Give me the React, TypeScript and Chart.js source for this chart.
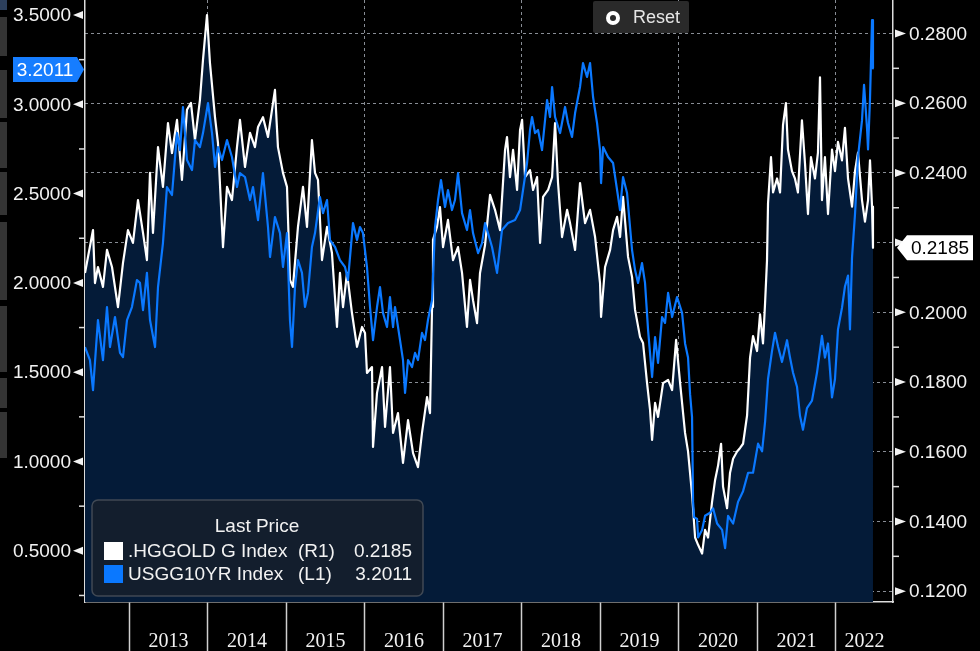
import { useEffect, useRef } from "react";
import { Chart, registerables } from "chart.js";

Chart.register(...registerables);

// ---------- data (decimal years / index values) ----------
const goldDates = [
  2012.436, 2012.538, 2012.563, 2012.601, 2012.665, 2012.716, 2012.780, 2012.856, 2012.920, 2012.983,
  2013.047, 2013.111, 2013.175, 2013.225, 2013.264, 2013.302, 2013.366, 2013.429, 2013.493, 2013.544,
  2013.608, 2013.671, 2013.735, 2013.786, 2013.837, 2013.900, 2013.939, 2013.990, 2014.028, 2014.092,
  2014.130, 2014.194, 2014.245, 2014.308, 2014.372, 2014.410, 2014.474, 2014.538, 2014.601, 2014.640,
  2014.703, 2014.767, 2014.818, 2014.856, 2014.894, 2014.958, 2015.009, 2015.047, 2015.085, 2015.149,
  2015.213, 2015.264, 2015.327, 2015.366, 2015.404, 2015.455, 2015.519, 2015.582, 2015.646, 2015.684,
  2015.723, 2015.774, 2015.837, 2015.901, 2015.965, 2016.003, 2016.028, 2016.092, 2016.105, 2016.156,
  2016.220, 2016.258, 2016.321, 2016.360, 2016.423, 2016.487, 2016.551, 2016.615, 2016.678, 2016.729,
  2016.793, 2016.831, 2016.857, 2016.869, 2016.920, 2016.958, 2016.997, 2017.060, 2017.124, 2017.188,
  2017.239, 2017.302, 2017.341, 2017.379, 2017.430, 2017.468, 2017.532, 2017.596, 2017.659, 2017.723,
  2017.787, 2017.812, 2017.850, 2017.889, 2017.940, 2017.978, 2018.004, 2018.042, 2018.105, 2018.144,
  2018.195, 2018.233, 2018.271, 2018.335, 2018.386, 2018.424, 2018.462, 2018.513, 2018.577, 2018.615,
  2018.679, 2018.742, 2018.806, 2018.870, 2018.934, 2018.997, 2019.010, 2019.061, 2019.125, 2019.163,
  2019.214, 2019.252, 2019.290, 2019.354, 2019.405, 2019.443, 2019.507, 2019.545, 2019.596, 2019.634,
  2019.660, 2019.698, 2019.736, 2019.800, 2019.864, 2019.915, 2019.966, 2020.017, 2020.080, 2020.118,
  2020.169, 2020.208, 2020.246, 2020.297, 2020.335, 2020.373, 2020.424, 2020.462, 2020.501, 2020.539,
  2020.564, 2020.615, 2020.653, 2020.692, 2020.743, 2020.781, 2020.819, 2020.870, 2020.908, 2020.946,
  2020.997, 2021.035, 2021.073, 2021.099, 2021.124, 2021.137, 2021.175, 2021.201, 2021.252, 2021.290,
  2021.328, 2021.365, 2021.391, 2021.442, 2021.480, 2021.518, 2021.569, 2021.608, 2021.646, 2021.684,
  2021.735, 2021.773, 2021.799, 2021.824, 2021.862, 2021.901, 2021.952, 2021.990, 2022.028, 2022.079,
  2022.117, 2022.156, 2022.207, 2022.245, 2022.283, 2022.334, 2022.372, 2022.411, 2022.436, 2022.462,
  2022.474,
];
const goldValues = [
  0.2113, 0.2236, 0.2084, 0.2130, 0.2073, 0.2179, 0.2130, 0.2015, 0.2142, 0.2236,
  0.2199, 0.2322, 0.2228, 0.2150, 0.2400, 0.2228, 0.2474, 0.2360, 0.2543, 0.2457,
  0.2552, 0.2380, 0.2581, 0.2601, 0.2494, 0.2609, 0.2724, 0.2853, 0.2715, 0.2560,
  0.2486, 0.2187, 0.2360, 0.2322, 0.2474, 0.2552, 0.2417, 0.2515, 0.2474, 0.2532,
  0.2560, 0.2503, 0.2581, 0.2638, 0.2474, 0.2400, 0.2360, 0.2093, 0.2073, 0.2245,
  0.2360, 0.2245, 0.2494, 0.2400, 0.2380, 0.2150, 0.2245, 0.2170, 0.1958, 0.2113,
  0.2015, 0.2113, 0.1998, 0.1901, 0.1958, 0.1941, 0.1826, 0.1843, 0.1614, 0.1769,
  0.1843, 0.1671, 0.1843, 0.1654, 0.1711, 0.1568, 0.1691, 0.1596, 0.1556, 0.1654,
  0.1757, 0.1711, 0.2015, 0.2208, 0.2245, 0.2302, 0.2187, 0.2265, 0.2150, 0.2187,
  0.2113, 0.1958, 0.2093, 0.2035, 0.1969, 0.2113, 0.2193, 0.2337, 0.2294, 0.2236,
  0.2466, 0.2503, 0.2388, 0.2466, 0.2351, 0.2523, 0.2552, 0.2388, 0.2408, 0.2351,
  0.2388, 0.2199, 0.2331, 0.2351, 0.2388, 0.2543, 0.2371, 0.2216, 0.2294, 0.2256,
  0.2179, 0.2371, 0.2256, 0.2294, 0.2216, 0.2084, 0.1987, 0.2130, 0.2179, 0.2236,
  0.2274, 0.2216, 0.2331, 0.2159, 0.2101, 0.2007, 0.1929, 0.1912, 0.1797, 0.1720,
  0.1634, 0.1740, 0.1700, 0.1797, 0.1806, 0.1777, 0.1921, 0.1797, 0.1654, 0.1601,
  0.1478, 0.1354, 0.1333, 0.1308, 0.1376, 0.1354, 0.1456, 0.1518, 0.1561, 0.1623,
  0.1500, 0.1438, 0.1540, 0.1580, 0.1601, 0.1611, 0.1623, 0.1704, 0.1870, 0.1932,
  0.1889, 0.1994, 0.1911, 0.2025, 0.2149, 0.2313, 0.2445, 0.2344, 0.2384, 0.2344,
  0.2538, 0.2600, 0.2467, 0.2405, 0.2384, 0.2344, 0.2551, 0.2427, 0.2282, 0.2445,
  0.2384, 0.2458, 0.2674, 0.2322, 0.2445, 0.2282, 0.2467, 0.2405, 0.2489, 0.2436,
  0.2529, 0.2384, 0.2303, 0.2405, 0.2458, 0.2322, 0.2260, 0.2322, 0.2436, 0.2303,
  0.2185,
];

const yieldDates = [
  2012.436, 2012.499, 2012.538, 2012.601, 2012.665, 2012.716, 2012.754, 2012.818, 2012.882, 2012.920,
  2012.971, 2013.034, 2013.098, 2013.136, 2013.175, 2013.225, 2013.264, 2013.328, 2013.366, 2013.429,
  2013.480, 2013.544, 2013.608, 2013.646, 2013.684, 2013.735, 2013.799, 2013.837, 2013.900, 2013.939,
  2014.003, 2014.054, 2014.092, 2014.130, 2014.181, 2014.245, 2014.308, 2014.372, 2014.410, 2014.474,
  2014.538, 2014.576, 2014.640, 2014.703, 2014.767, 2014.793, 2014.856, 2014.920, 2014.958, 2015.009,
  2015.047, 2015.073, 2015.111, 2015.149, 2015.200, 2015.238, 2015.276, 2015.327, 2015.366, 2015.429,
  2015.468, 2015.519, 2015.557, 2015.621, 2015.684, 2015.748, 2015.786, 2015.850, 2015.901, 2015.939,
  2015.977, 2016.028, 2016.067, 2016.105, 2016.156, 2016.194, 2016.232, 2016.283, 2016.321, 2016.360,
  2016.385, 2016.449, 2016.487, 2016.513, 2016.551, 2016.602, 2016.640, 2016.678, 2016.729, 2016.767,
  2016.805, 2016.857, 2016.895, 2016.933, 2016.971, 2017.022, 2017.060, 2017.111, 2017.149, 2017.188,
  2017.239, 2017.302, 2017.341, 2017.379, 2017.443, 2017.494, 2017.532, 2017.570, 2017.621, 2017.685,
  2017.748, 2017.825, 2017.914, 2017.978, 2018.016, 2018.067, 2018.105, 2018.131, 2018.169, 2018.207,
  2018.258, 2018.322, 2018.360, 2018.386, 2018.424, 2018.488, 2018.551, 2018.589, 2018.640, 2018.679,
  2018.742, 2018.780, 2018.831, 2018.870, 2018.908, 2018.959, 2018.997, 2019.010, 2019.036, 2019.099,
  2019.163, 2019.214, 2019.252, 2019.290, 2019.341, 2019.405, 2019.443, 2019.481, 2019.532, 2019.570,
  2019.609, 2019.660, 2019.698, 2019.736, 2019.787, 2019.825, 2019.864, 2019.915, 2019.978, 2020.042,
  2020.080, 2020.118, 2020.144, 2020.169, 2020.182, 2020.195, 2020.233, 2020.246, 2020.297, 2020.335,
  2020.399, 2020.437, 2020.488, 2020.552, 2020.590, 2020.628, 2020.692, 2020.755, 2020.819, 2020.883,
  2020.946, 2021.010, 2021.061, 2021.099, 2021.137, 2021.188, 2021.226, 2021.265, 2021.315, 2021.379,
  2021.417, 2021.455, 2021.506, 2021.544, 2021.582, 2021.633, 2021.697, 2021.761, 2021.824, 2021.862,
  2021.901, 2021.952, 2021.990, 2022.028, 2022.079, 2022.117, 2022.156, 2022.181, 2022.207, 2022.245,
  2022.283, 2022.334, 2022.360, 2022.398, 2022.411, 2022.436, 2022.462, 2022.474,
];
const yieldValues = [
  1.641, 1.568, 1.400, 1.792, 1.568, 1.865, 1.641, 1.809, 1.608, 1.585,
  1.792, 1.865, 2.016, 2.000, 1.848, 2.056, 1.792, 1.641, 1.977, 2.223,
  2.537, 2.492, 2.839, 2.744, 2.985, 2.688, 2.632, 2.800, 2.761, 2.839,
  3.007, 2.839, 2.649, 2.761, 2.688, 2.800, 2.705, 2.537, 2.615, 2.593,
  2.464, 2.537, 2.352, 2.615, 2.313, 2.145, 2.369, 2.279, 2.089, 2.279,
  1.792, 1.641, 1.977, 2.128, 2.056, 1.865, 1.944, 2.201, 2.279, 2.481,
  2.391, 2.464, 2.240, 2.201, 2.128, 2.089, 2.016, 2.335, 2.240, 2.313,
  2.279, 2.089, 1.865, 1.680, 1.865, 1.977, 1.832, 1.753, 1.921, 1.753,
  1.865, 1.680, 1.568, 1.384, 1.568, 1.529, 1.608, 1.568, 1.720, 1.680,
  1.792, 1.904, 2.313, 2.464, 2.576, 2.425, 2.520, 2.408, 2.464, 2.615,
  2.391, 2.296, 2.408, 2.279, 2.167, 2.223, 2.335, 2.279, 2.201, 2.056,
  2.296, 2.335, 2.352, 2.408, 2.520, 2.671, 2.856, 2.929, 2.839, 2.856,
  2.744, 3.024, 2.929, 3.097, 2.929, 2.839, 2.985, 2.895, 2.817, 2.951,
  3.097, 3.231, 3.153, 3.231, 3.041, 2.895, 2.744, 2.559, 2.761, 2.705,
  2.671, 2.520, 2.408, 2.593, 2.503, 2.184, 2.072, 2.000, 2.111, 2.000,
  1.736, 1.473, 1.697, 1.552, 1.809, 1.776, 1.944, 1.809, 1.921, 1.832,
  1.661, 1.582, 1.377, 1.249, 0.774, 0.689, 0.678, 0.575, 0.617, 0.696,
  0.713, 0.738, 0.653, 0.617, 0.515, 0.696, 0.653, 0.774, 0.834, 0.937,
  0.937, 1.100, 1.057, 1.220, 1.462, 1.619, 1.721, 1.643, 1.558, 1.679,
  1.582, 1.498, 1.419, 1.256, 1.178, 1.299, 1.341, 1.498, 1.703, 1.582,
  1.661, 1.359, 1.462, 1.739, 1.860, 1.980, 2.041, 1.739, 2.143, 2.385,
  2.704, 2.910, 3.109, 2.867, 2.747, 3.030, 3.471, 3.2011,
];

const yearStarts = [2013, 2014, 2015, 2016, 2017, 2018, 2019, 2020, 2021, 2022];
const yearLabels = ["2013", "2014", "2015", "2016", "2017", "2018", "2019", "2020", "2021", "2022"];
const leftTickValues = [0.5, 1.0, 1.5, 2.0, 2.5, 3.0, 3.5];
const leftMinorValues = [0.25, 0.75, 1.25, 1.75, 2.25, 2.75, 3.25];
const rightTickValues = [0.12, 0.14, 0.16, 0.18, 0.2, 0.22, 0.24, 0.26, 0.28];
const rightMinorValues = [0.13, 0.15, 0.17, 0.19, 0.21, 0.23, 0.25, 0.27];

const legendTitle = "Last Price";
const seriesNames = [".HGGOLD G Index", "USGG10YR Index"];
const seriesAxes = ["(R1)", "(L1)"];
const resetLabel = "Reset";

// axis ranges
const X_MIN = 2012.436;
const X_MAX = 2022.729;
const L_MIN = 0.2134;
const L_MAX = 3.584;
const R_MIN = 0.1169;
const R_MAX = 0.2896;

// styles
const NAVY = "#041b38";
const BLUE = "#0a78ff";
const TAG_BLUE = "#167dff";
const GRID = "rgba(170,176,186,0.8)";
const AXIS = "#dcdcdc";
const TEXT = "#f2f2f2";
const SANS = '"Liberation Sans", Arial, sans-serif';
const SERIF = '"Liberation Serif", "Times New Roman", serif';

const decorPlugin = {
  id: "decor",
  beforeDraw(chart: any) {
    const { ctx, width, height } = chart;
    ctx.save();
    ctx.fillStyle = "#000";
    ctx.fillRect(0, 0, width, height);
    ctx.restore();
  },
  afterDraw(chart: any) {
    const ctx = chart.ctx;
    const area = chart.chartArea;
    const xs = chart.scales.x;
    const yl = chart.scales.y;
    const yr = chart.scales.y1;
    ctx.save();

    // left strip (toolbar)
    ctx.fillStyle = "#2c3f5c";
    ctx.fillRect(0, 0, 7, 10);
    ctx.fillStyle = "#343434";
    [[17, 56], [70, 118], [122, 168], [172, 215], [222, 300], [306, 372], [378, 408], [412, 458]].forEach(
      ([a, b]) => ctx.fillRect(0, a, 7, b - a)
    );

    // left axis labels / markers
    ctx.font = `19px ${SANS}`;
    ctx.fillStyle = TEXT;
    ctx.strokeStyle = AXIS;
    ctx.lineWidth = 1.5;
    ctx.textAlign = "right";
    ctx.textBaseline = "middle";
    leftTickValues.forEach((v) => {
      const py = yl.getPixelForValue(v);
      ctx.fillText(v.toFixed(4), 71, py + 1);
      ctx.beginPath();
      ctx.moveTo(area.left - 12, py);
      ctx.lineTo(area.left - 2, py - 4);
      ctx.lineTo(area.left - 2, py + 4);
      ctx.closePath();
      ctx.fill();
    });
    leftMinorValues.forEach((v) => {
      const py = yl.getPixelForValue(v);
      if (py < area.top || py > area.bottom) return;
      ctx.beginPath();
      ctx.moveTo(area.left - 6, py);
      ctx.lineTo(area.left, py);
      ctx.stroke();
    });

    // right axis labels / markers
    ctx.textAlign = "left";
    rightTickValues.forEach((v) => {
      const py = yr.getPixelForValue(v);
      ctx.fillText(v.toFixed(4), area.right + 16, py + 1);
      ctx.beginPath();
      ctx.moveTo(area.right + 13, py);
      ctx.lineTo(area.right + 2, py - 4);
      ctx.lineTo(area.right + 2, py + 4);
      ctx.closePath();
      ctx.fill();
    });
    rightMinorValues.forEach((v) => {
      const py = yr.getPixelForValue(v);
      ctx.beginPath();
      ctx.moveTo(area.right, py);
      ctx.lineTo(area.right + 6, py);
      ctx.stroke();
    });

    // year labels centred in each year band
    ctx.font = `20px ${SERIF}`;
    ctx.textAlign = "center";
    ctx.textBaseline = "alphabetic";
    yearStarts.forEach((yv, i) => {
      const a = xs.getPixelForValue(yv);
      const b = xs.getPixelForValue(Math.min(yv + 1, X_MAX));
      ctx.fillText(yearLabels[i], (a + b) / 2, 647);
    });

    // last-value tags
    const lastYield = yieldValues[yieldValues.length - 1];
    const lastGold = goldValues[goldValues.length - 1];
    const pyl = yl.getPixelForValue(lastYield) + 1;
    ctx.fillStyle = TAG_BLUE;
    ctx.beginPath();
    ctx.moveTo(13, pyl - 12.5);
    ctx.lineTo(77, pyl - 12.5);
    ctx.lineTo(84, pyl);
    ctx.lineTo(77, pyl + 12.5);
    ctx.lineTo(13, pyl + 12.5);
    ctx.closePath();
    ctx.fill();
    ctx.font = `19px ${SANS}`;
    ctx.fillStyle = "#ffffff";
    ctx.textAlign = "center";
    ctx.textBaseline = "middle";
    ctx.fillText(lastYield.toFixed(4), 45, pyl + 1);

    const pyr = yr.getPixelForValue(lastGold);
    ctx.fillStyle = "#ffffff";
    ctx.beginPath();
    ctx.moveTo(897, pyr);
    ctx.lineTo(907, pyr - 12.5);
    ctx.lineTo(973, pyr - 12.5);
    ctx.lineTo(973, pyr + 12.5);
    ctx.lineTo(907, pyr + 12.5);
    ctx.closePath();
    ctx.fill();
    ctx.fillStyle = "#000000";
    ctx.fillText(lastGold.toFixed(4), 940, pyr + 1);

    // legend box
    ctx.beginPath();
    ctx.roundRect(92, 500, 331, 96, 6);
    ctx.fillStyle = "rgba(32,33,36,0.55)";
    ctx.fill();
    ctx.strokeStyle = "rgba(70,78,88,0.9)";
    ctx.lineWidth = 1.5;
    ctx.stroke();
    ctx.fillStyle = TEXT;
    ctx.font = `19px ${SANS}`;
    ctx.textAlign = "center";
    ctx.fillText(legendTitle, 257, 527);
    const rows = [
      { color: "#ffffff", name: seriesNames[0], axis: seriesAxes[0], value: lastGold, y: 551 },
      { color: BLUE, name: seriesNames[1], axis: seriesAxes[1], value: lastYield, y: 574 },
    ];
    rows.forEach((r) => {
      ctx.fillStyle = r.color;
      ctx.fillRect(104, r.y - 9, 19, 18);
      ctx.fillStyle = TEXT;
      ctx.textAlign = "left";
      ctx.fillText(r.name, 128, r.y + 1);
      ctx.fillText(r.axis, 298, r.y + 1);
      ctx.textAlign = "right";
      ctx.fillText(r.value.toFixed(4), 412, r.y + 1);
    });

    // reset button
    ctx.fillStyle = "#2a2a2a";
    ctx.beginPath();
    ctx.roundRect(593, 1, 96, 32, 2);
    ctx.fill();
    ctx.fillStyle = "#ffffff";
    ctx.beginPath();
    ctx.arc(613, 18, 7, 0, Math.PI * 2);
    ctx.fill();
    ctx.fillStyle = "#2a2a2a";
    ctx.beginPath();
    ctx.arc(613, 18, 3, 0, Math.PI * 2);
    ctx.fill();
    ctx.fillStyle = "#e6e6e6";
    ctx.font = `18px ${SANS}`;
    ctx.textAlign = "left";
    ctx.fillText(resetLabel, 633, 18);

    ctx.restore();
  },
};

export default function App() {
  const ref = useRef<HTMLCanvasElement | null>(null);

  useEffect(() => {
    if (!ref.current) return;
    const yieldData = yieldDates.map((d, i) => ({ x: d, y: yieldValues[i] }));
    const goldData = goldDates.map((d, i) => ({ x: d, y: goldValues[i] }));
    const chart = new Chart(ref.current, {
      type: "line",
      data: {
        datasets: [
          {
            label: seriesNames[1],
            data: yieldData,
            yAxisID: "y",
            borderColor: BLUE,
            borderWidth: 2.2,
            pointRadius: 0,
            fill: false,
            tension: 0,
            borderJoinStyle: "round",
          },
          {
            label: seriesNames[0],
            data: goldData,
            yAxisID: "y1",
            borderColor: "#ffffff",
            backgroundColor: NAVY,
            borderWidth: 2.2,
            pointRadius: 0,
            fill: "start",
            tension: 0,
            borderJoinStyle: "round",
          },
        ],
      },
      options: {
        animation: false,
        responsive: false,
        devicePixelRatio: 1,
        layout: { padding: 0 },
        events: [],
        plugins: {
          legend: { display: false },
          tooltip: { enabled: false },
          filler: { drawTime: "beforeDatasetsDraw" },
        },
        scales: {
          x: {
            type: "linear",
            min: X_MIN,
            max: X_MAX,
            afterBuildTicks: (s: any) => {
              s.ticks = yearStarts.map((v) => ({ value: v }));
            },
            afterFit: (s: any) => {
              s.height = 49;
            },
            ticks: { display: false },
            grid: {
              color: (c: any) => (c.tick && c.tick.value % 2 === 0 ? GRID : "rgba(0,0,0,0)"),
              lineWidth: 1,
              tickColor: "#cfcfcf",
              tickLength: 49,
              tickWidth: 1.5,
            },
            border: { display: true, color: AXIS, width: 1.5, dash: [3, 3] },
          },
          y: {
            type: "linear",
            position: "left",
            min: L_MIN,
            max: L_MAX,
            afterFit: (s: any) => {
              s.width = 85;
            },
            ticks: { display: false },
            grid: { display: false },
            border: { display: true, color: AXIS, width: 1.5 },
          },
          y1: {
            type: "linear",
            position: "right",
            min: R_MIN,
            max: R_MAX,
            afterBuildTicks: (s: any) => {
              s.ticks = rightTickValues.map((v) => ({ value: v }));
            },
            afterFit: (s: any) => {
              s.width = 87;
            },
            ticks: { display: false },
            grid: { color: GRID, lineWidth: 1, drawTicks: false },
            border: { display: true, color: AXIS, width: 1.5, dash: [3, 3] },
          },
        },
      },
      plugins: [decorPlugin],
    } as any);
    return () => chart.destroy();
  }, []);

  return (
    <div style={{ position: "fixed", left: 0, top: 0, width: 980, height: 651, background: "#000" }}>
      <canvas ref={ref} width={980} height={651} style={{ display: "block", width: 980, height: 651 }} />
    </div>
  );
}
